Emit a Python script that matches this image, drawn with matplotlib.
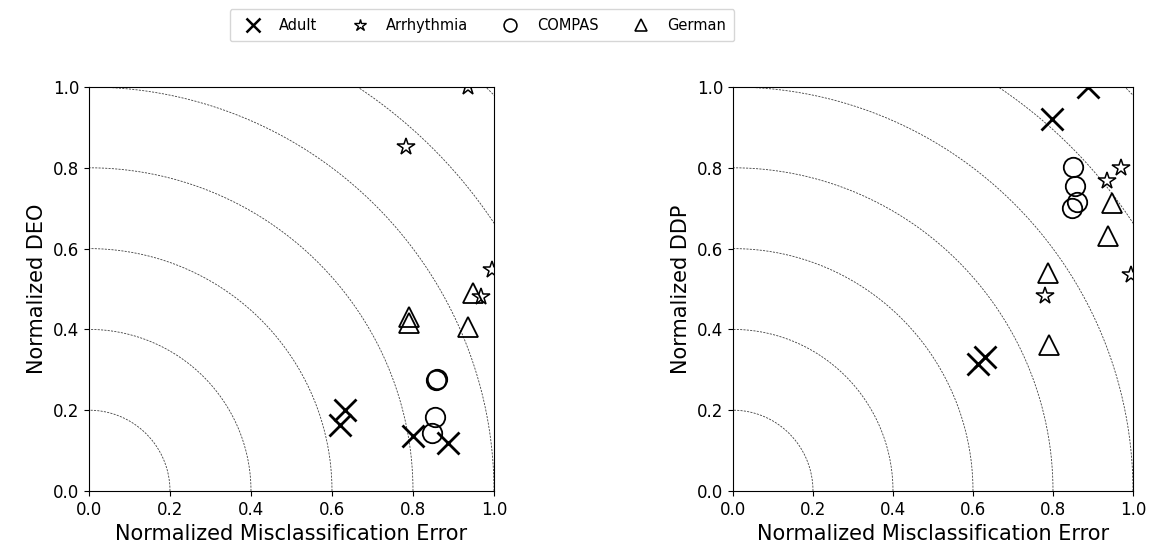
import numpy as np
import matplotlib
matplotlib.use('Agg')
import matplotlib.pyplot as plt
from matplotlib.lines import Line2D

datasets = ['Adult', 'Arrhythmia', 'COMPAS', 'German']
markers = ['x', '*', 'o', '^']

# normalized misclassification error vs normalized DEO
deo_x = {
    'Adult': [0.620, 0.632, 0.800, 0.887],
    'Arrhythmia': [0.782, 0.937, 0.995, 0.969],
    'COMPAS': [0.857, 0.860, 0.854, 0.846],
    'German': [0.790, 0.790, 0.937, 0.948],
}
deo_y = {
    'Adult': [0.163, 0.200, 0.137, 0.118],
    'Arrhythmia': [0.852, 1.000, 0.548, 0.479],
    'COMPAS': [0.274, 0.277, 0.184, 0.143],
    'German': [0.430, 0.415, 0.407, 0.491],
}

# normalized misclassification error vs normalized DDP
ddp_x = {
    'Adult': [0.887, 0.798, 0.613, 0.630],
    'Arrhythmia': [0.969, 0.934, 0.994, 0.780],
    'COMPAS': [0.851, 0.855, 0.859, 0.847],
    'German': [0.947, 0.937, 0.788, 0.791],
}
ddp_y = {
    'Adult': [1.000, 0.921, 0.314, 0.332],
    'Arrhythmia': [0.799, 0.768, 0.535, 0.483],
    'COMPAS': [0.803, 0.755, 0.716, 0.700],
    'German': [0.712, 0.632, 0.539, 0.361],
}

radii = [0.2, 0.4, 0.6, 0.8, 1.0, 1.2, 1.4]

msize = {'x': 16, '*': 13, 'o': 14, '^': 14}
mew = {'x': 2.0, '*': 1.1, 'o': 1.3, '^': 1.3}


def draw(ax, xs, ys, ylab):
    t = np.linspace(0, np.pi / 2, 300)
    for r in radii:
        ax.plot(r * np.cos(t), r * np.sin(t), color='0.25', ls='--', lw=0.6, dashes=(2.5, 1.5))
    for name, m in zip(datasets, markers):
        ax.plot(xs[name], ys[name], ls='none', marker=m, ms=msize[m],
                mfc='none', mec='k', mew=mew[m])
    ax.set_xlim(0, 1)
    ax.set_ylim(0, 1)
    ax.set_xticks(np.arange(0, 1.01, 0.2))
    ax.set_yticks(np.arange(0, 1.01, 0.2))
    ax.tick_params(labelsize=12)
    ax.set_xlabel('Normalized Misclassification Error', fontsize=15)
    ax.set_ylabel(ylab, fontsize=15)


fig = plt.figure(figsize=(11.56, 5.56), dpi=100)
ax1 = fig.add_axes([89 / 1156, 1 - 491 / 556, 405 / 1156, 404 / 556])
ax2 = fig.add_axes([733 / 1156, 1 - 491 / 556, 400 / 1156, 404 / 556])
draw(ax1, deo_x, deo_y, 'Normalized DEO')
draw(ax2, ddp_x, ddp_y, 'Normalized DDP')

handles = [Line2D([], [], ls='none', marker=m, ms=msize[m] * 0.66, mfc='none',
                  mec='k', mew=mew[m] * 0.9) for m in markers]
fig.legend(handles, datasets, loc='upper center', bbox_to_anchor=(482 / 1156, 0.997),
           ncol=4, fontsize=10.5, borderpad=0.6, columnspacing=1.9)

fig.savefig('out.png', dpi=100)
